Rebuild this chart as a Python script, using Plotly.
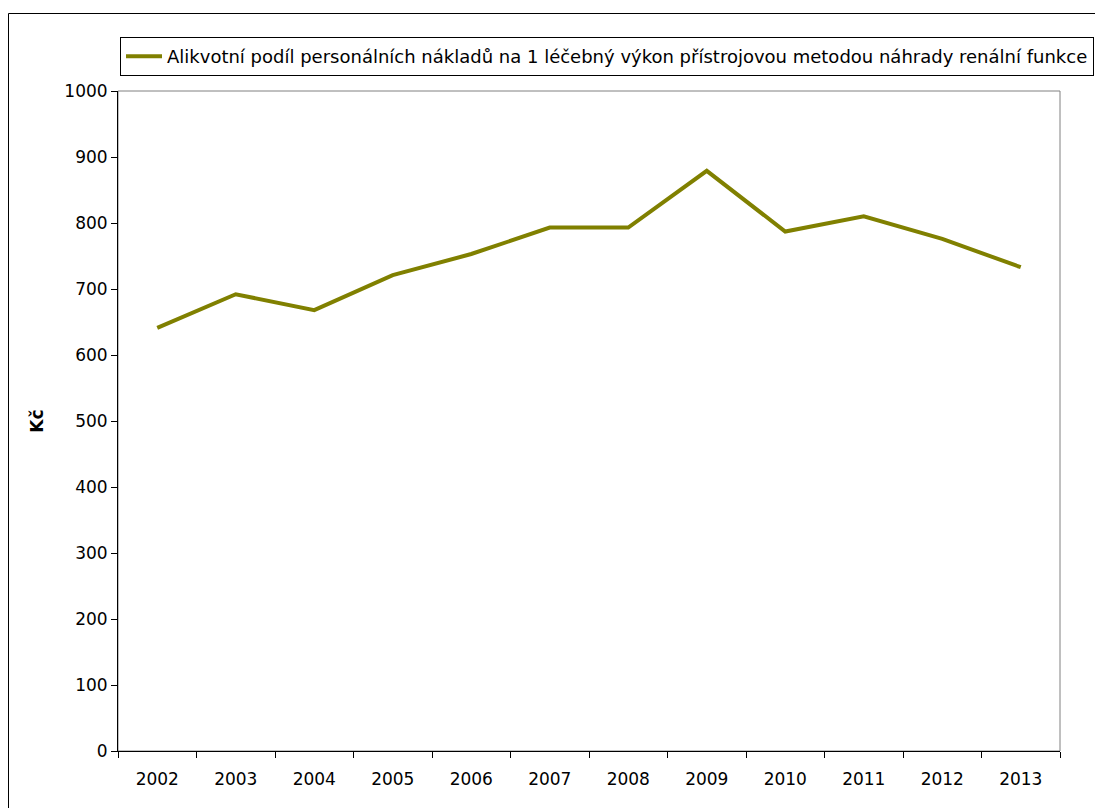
import plotly.graph_objects as go

years = ["2002", "2003", "2004", "2005", "2006", "2007",
         "2008", "2009", "2010", "2011", "2012", "2013"]
naklady = [641, 692, 668, 721, 753, 793, 793, 879, 787, 810, 776, 733]
series_name = ("Alikvotní podíl personálních nákladů na 1 léčebný výkon "
               "přístrojovou metodou náhrady renální funkce")
y_ticks = list(range(0, 1001, 100))

W, H = 1095, 808
L, R, T, B = 118, 35, 91, 57
pw, ph = W - L - R, H - T - B

fig = go.Figure()
fig.add_trace(go.Scatter(
    x=years, y=naklady, mode="lines", name=series_name,
    line=dict(color="#808000", width=4),
))


def px_x(p):
    return (p - L) / pw


def px_y(p):
    return (H - B - p) / ph


shapes = [
    # plot-area frame (grey top/right)
    dict(type="rect", xref="paper", yref="paper", x0=0, x1=1, y0=0, y1=1,
         line=dict(color="#808080", width=1), layer="below"),
    # chart outer frame: top and left edges
    dict(type="line", xref="paper", yref="paper",
         x0=px_x(8.5), x1=px_x(1200), y0=px_y(13.5), y1=px_y(13.5),
         line=dict(color="#000000", width=1), layer="below"),
    dict(type="line", xref="paper", yref="paper",
         x0=px_x(8.5), x1=px_x(8.5), y0=px_y(13.5), y1=px_y(900),
         line=dict(color="#000000", width=1), layer="below"),
]

font = "DejaVu Sans, Liberation Sans, Arial, sans-serif"
fig.update_layout(
    width=W, height=H,
    margin=dict(l=L, r=R, t=T, b=B, autoexpand=False),
    paper_bgcolor="white", plot_bgcolor="white",
    font=dict(family=font, size=17, color="#000000"),
    showlegend=True,
    legend=dict(
        x=px_x(120), y=px_y(37), xanchor="left", yanchor="top",
        bordercolor="#000000", borderwidth=1, bgcolor="white",
        font=dict(family=font, size=18), itemwidth=36,
    ),
    shapes=shapes,
    xaxis=dict(
        type="category", range=[-0.5, 11.5],
        tickson="boundaries", ticks="outside", ticklen=6,
        tickcolor="#000000", showline=True, linecolor="#000000",
        linewidth=1, showgrid=False, zeroline=False,
        ticklabelstandoff=13,
        tickfont=dict(family=font, size=17),
    ),
    yaxis=dict(
        range=[0, 1000], tickvals=y_ticks, ticks="outside", ticklen=6,
        tickcolor="#000000", showline=True, linecolor="#000000",
        linewidth=1, showgrid=False, zeroline=False,
        tickfont=dict(family=font, size=17),
        title=dict(text="<b>Kč</b>", font=dict(family=font, size=17),
                   standoff=16),
    ),
)

fig.write_html("out.html")
